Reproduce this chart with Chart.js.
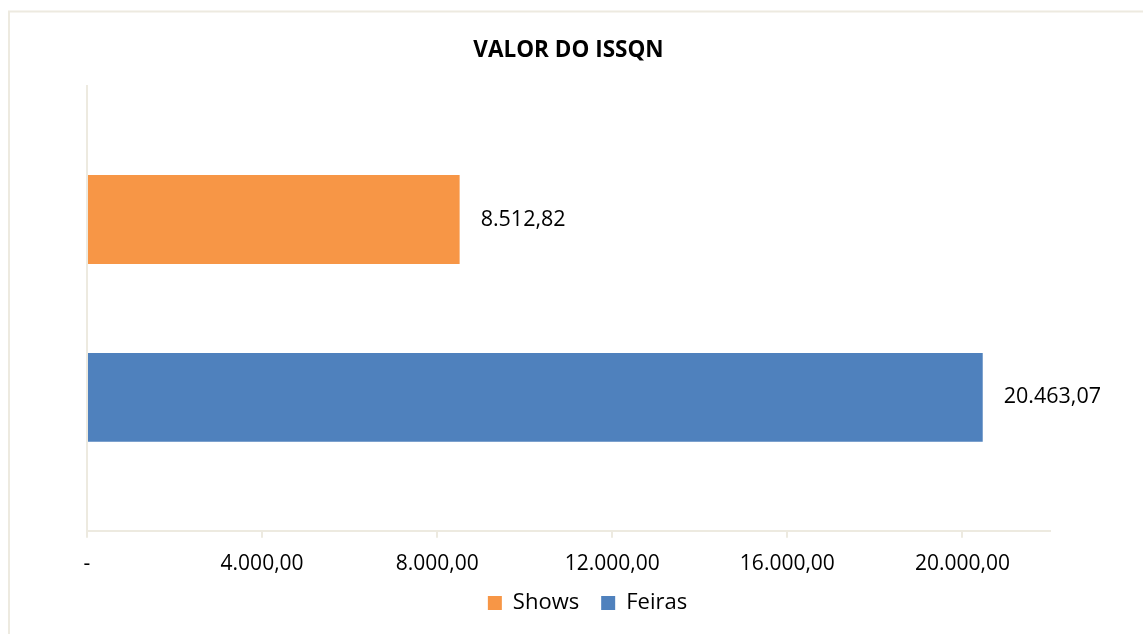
<!DOCTYPE html>
<html>
<head>
<meta charset="utf-8">
<script src="https://cdn.jsdelivr.net/npm/chart.js@4"></script>
<style>
  html, body { margin: 0; padding: 0; background: #fff; }
  #wrap { width: 1143px; height: 634px; position: relative; }
</style>
</head>
<body>
<div id="wrap"><canvas id="c" width="1143" height="634"></canvas></div>
<script>
const categories = ['ISSQN'];
const seriesNames = ['Shows', 'Feiras'];
const showsValues = [8512.82];
const feirasValues = [20463.07];
const tickValues = [0, 4000, 8000, 12000, 16000, 20000];
const axisMax = 22000;
const titleText = 'VALOR DO ISSQN';

const FONT = "'Open Sans', 'Liberation Sans', sans-serif";
const LINE = '#EDEAE0';

function fmtBR(v) {
  const fixed = Math.abs(v).toFixed(2);
  let [intPart, dec] = fixed.split('.');
  intPart = intPart.replace(/\B(?=(\d{3})+(?!\d))/g, '.');
  return (v < 0 ? '-' : '') + intPart + ',' + dec;
}

const framePlugin = {
  id: 'frame',
  beforeDraw(chart) {
    const ctx = chart.ctx;
    ctx.save();
    ctx.strokeStyle = LINE;
    ctx.lineWidth = 2;
    ctx.beginPath();
    ctx.moveTo(9, chart.height + 5);
    ctx.lineTo(9, 11.5);
    ctx.lineTo(chart.width + 5, 11.5);
    ctx.stroke();
    ctx.restore();
  }
};

const legendShift = {
  id: 'legendShift',
  afterLayout(chart) {
    const lg = chart.legend;
    if (lg) {
      lg.left += 19;
      lg.right += 19;
      lg.top -= 21;
      lg.bottom -= 21;
    }
  }
};

const labelPlugin = {
  id: 'barLabels',
  afterDatasetsDraw(chart) {
    const ctx = chart.ctx;
    ctx.save();
    ctx.font = '21.5px ' + FONT;
    ctx.fillStyle = '#000';
    ctx.textAlign = 'left';
    ctx.textBaseline = 'middle';
    chart.data.datasets.forEach((ds, di) => {
      const meta = chart.getDatasetMeta(di);
      meta.data.forEach((el, i) => {
        ctx.fillText(fmtBR(ds.data[i]), el.x + 21, el.y);
      });
    });
    ctx.restore();
  }
};

new Chart(document.getElementById('c'), {
  type: 'bar',
  data: {
    labels: categories,
    datasets: [
      { label: seriesNames[0], data: showsValues, backgroundColor: '#F79646', borderWidth: 0 },
      { label: seriesNames[1], data: feirasValues, backgroundColor: '#4F81BD', borderWidth: 0 }
    ]
  },
  options: {
    indexAxis: 'y',
    responsive: false,
    animation: false,
    devicePixelRatio: 1,
    datasets: { bar: { categoryPercentage: 0.8, barPercentage: 0.5 } },
    layout: { padding: { left: 87, right: 93, top: 0, bottom: -11 } },
    plugins: {
      title: {
        display: true,
        text: titleText,
        color: '#000',
        font: { family: FONT, size: 22.5, weight: 'bold', lineHeight: 1.2 },
        padding: { top: 37, bottom: 22 }
      },
      legend: {
        position: 'bottom',
        labels: {
          color: '#000',
          font: { family: FONT, size: 22 },
          boxWidth: 14,
          boxHeight: 14,
          padding: 22
        }
      },
      tooltip: { enabled: false }
    },
    scales: {
      x: {
        type: 'linear',
        min: 0,
        max: axisMax,
        afterBuildTicks(axis) { axis.ticks = tickValues.map(v => ({ value: v })); },
        ticks: {
          color: '#000',
          font: { family: FONT, size: 21 },
          padding: 14,
          callback: (v) => v === 0 ? '-' : fmtBR(v)
        },
        grid: { display: true, drawOnChartArea: false, drawTicks: true, tickLength: 7, color: LINE, lineWidth: 2 },
        border: { display: true, color: LINE, width: 2 }
      },
      y: {
        type: 'category',
        ticks: { display: false },
        grid: { display: false, drawTicks: false },
        border: { display: true, color: LINE, width: 2 }
      }
    }
  },
  plugins: [framePlugin, legendShift, labelPlugin]
});
</script>
</body>
</html>
